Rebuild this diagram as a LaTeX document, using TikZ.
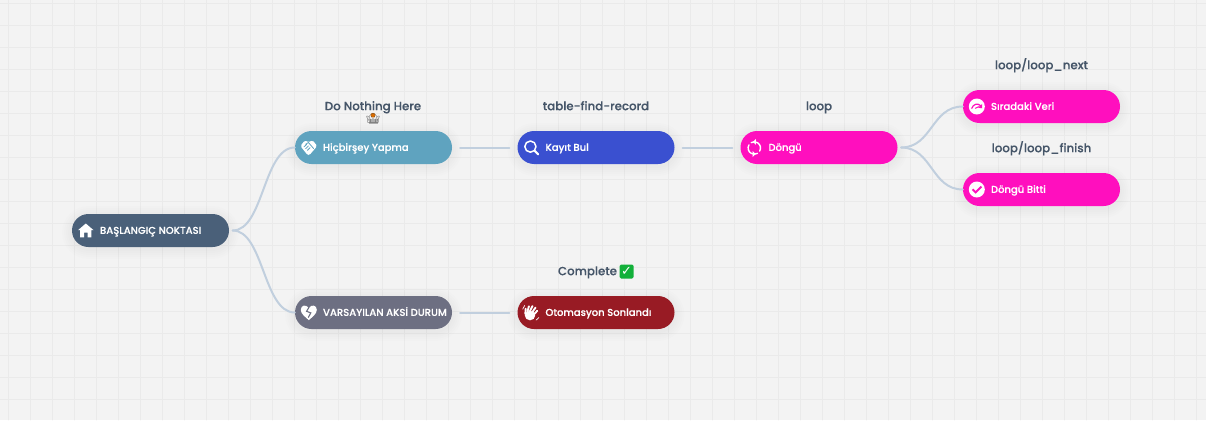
\documentclass[tikz,border=0pt]{standalone}
\usepackage{fontspec}
\usetikzlibrary{calc,arrows.meta}
\newfontfamily\labelfont[FakeBold=0.22]{Poppins Medium}
\newfontfamily\emojifont{Noto Emoji}
\newfontfamily\symfont{DejaVu Sans}
\definecolor{paperC}{HTML}{F3F3F3}
\definecolor{gridC}{HTML}{EAEAEA}
\definecolor{linkC}{HTML}{C1CFDE}
\definecolor{labelC}{HTML}{465669}
\definecolor{rootC}{HTML}{4A6079}
\definecolor{idleC}{HTML}{5FA3BF}
\definecolor{failC}{HTML}{6D6F82}
\definecolor{findC}{HTML}{3A50D0}
\definecolor{loopC}{HTML}{FF0FBE}
\definecolor{doneC}{HTML}{981B24}
\definecolor{tickC}{HTML}{12B03A}
\tikzset{
  pillbox/.style={minimum width=157pt, minimum height=33pt, inner sep=0pt, rounded corners=16.5pt},
  pilltext/.style={anchor=base west, inner sep=0pt, text=white, font=\labelfont\fontsize{10}{12}\selectfont},
  steplabel/.style={anchor=base, inner sep=0pt, text=labelC, font=\labelfont\fontsize{11.8}{14}\selectfont},
  linkline/.style={draw=linkC, line width=2pt, line cap=round}
}

\begin{document}
\begin{tikzpicture}[
  x=1pt,
  y=-1pt,
  line cap=round,
  line join=round
]

\useasboundingbox (0,0) rectangle (1206,420);
\fill[paperC] (0,0) rectangle (1206,420);

% Canvas grid.
\foreach \x in {8.5,30.5,...,1206}{
  \draw[gridC, line width=0.8pt] (\x,0) -- (\x,420);
}
\foreach \y in {3.5,25.5,...,420}{
  \draw[gridC, line width=0.8pt] (0,\y) -- (1206,\y);
}

% Soft shadows under the pills.
\foreach \x/\y in {150.5/230.5, 373.5/147.5, 373.5/312.5, 596/147.5, 596/312.5, 819/147.5, 1041.5/106.5, 1041.5/189.5}{
  \foreach \g in {2,4,...,10}{
    \fill[black, opacity=0.009, rounded corners=16.5pt+\g pt]
      (\x-78.5-\g,\y-16.5-\g+2) rectangle (\x+78.5+\g,\y+16.5+\g+2);
  }
}

% Pills.
\node[pillbox, fill=rootC] (root) at (150.5,230.5) {};
\node[pillbox, fill=idleC] (idle) at (373.5,147.5) {};
\node[pillbox, fill=failC] (fail) at (373.5,312.5) {};
\node[pillbox, fill=findC] (find) at (596,147.5) {};
\node[pillbox, fill=doneC] (done) at (596,312.5) {};
\node[pillbox, fill=loopC] (loop) at (819,147.5) {};
\node[pillbox, fill=loopC] (next) at (1041.5,106.5) {};
\node[pillbox, fill=loopC] (finish) at (1041.5,189.5) {};

% Pill captions.
\foreach \nm/\txt in {root/BAŞLANGIÇ NOKTASI, idle/Hiçbirşey Yapma, fail/VARSAYILAN AKSİ DURUM, find/Kayıt Bul, done/Otomasyon Sonlandı, loop/Döngü, next/Sıradaki Veri, finish/Döngü Bitti}{
  \node[pilltext] (\nm Text) at ($(\nm.west)+(28,3.4)$) {\txt};
}

% House icon.
\begin{scope}[shift={(root.west)}, xshift=14pt]
  \fill[white] (-7.8,-0.3) -- (0,-7) -- (7.8,-0.3) -- (5.6,-0.3) -- (5.6,6.8) -- (1.8,6.8)
    -- (1.8,2.2) -- (-1.8,2.2) -- (-1.8,6.8) -- (-5.6,6.8) -- (-5.6,-0.3) -- cycle;
\end{scope}

% Clasped hands icon.
\begin{scope}[shift={(idle.west)}, xshift=14pt]
  \fill[white, rounded corners=1.5pt] (-8.4,-1.5) -- (-3.8,-7.2) -- (-0.2,-5.2) -- (3.8,-7.2)
    -- (8.4,-1.5) -- (0.4,7.8) -- (-1.5,7.2) -- cycle;
  \draw[idleC, line width=0.8pt] (-3.2,-3.2) -- (-0.4,-5) -- (4.8,1.0);
  \foreach \d in {0,1,2}{
    \draw[idleC, line width=0.8pt] (-4.8+1.7*\d,-0.6+1.7*\d) -- (-2.1+1.7*\d,-3.2+1.7*\d);
  }
\end{scope}

% Broken heart icon.
\begin{scope}[shift={(fail.west)}, xshift=14pt]
  \fill[white] (0,7.6) .. controls (-3,4.8) and (-8,1.6) .. (-8,-2.6)
    .. controls (-8,-7.6) and (-2.6,-8.4) .. (0,-4.4)
    .. controls (2.6,-8.4) and (8,-7.6) .. (8,-2.6)
    .. controls (8,1.6) and (3,4.8) .. (0,7.6) -- cycle;
  \draw[failC, line width=1.1pt, line join=miter] (0.2,-5.2) -- (-2.2,-1.2) -- (2,0.4) -- (-0.4,4.8);
\end{scope}

% Magnifier icon.
\begin{scope}[shift={(find.west)}, xshift=14pt]
  \draw[white, line width=1.5pt] (-0.9,-0.9) circle (5.6);
  \draw[white, line width=2.1pt] (3.4,3.4) -- (6.9,6.9);
\end{scope}

% Clapping hands icon.
\begin{scope}[shift={(done.west)}, xshift=14pt]
  \fill[white] (-1.3,3) ellipse (5.2 and 4.8);
  \foreach \a/\b/\c/\d in {-6/1.5/-5.6/-3.8, -3.9/-0.5/-2.4/-6.2, -1.6/-1/1.2/-6.4, 0.8/0/4.2/-4.9, 2.6/2/6/-1.8}{
    \draw[white, line width=1.9pt] (\a,\b) -- (\c,\d);
  }
  \draw[white, line width=0.7pt] (-8.6,-3.4) -- (-6.6,-7);
  \draw[white, line width=0.7pt] (7.6,5) -- (4.8,7.6);
\end{scope}

% Sync arrows icon.
\begin{scope}[shift={(loop.west)}, xshift=14pt, yshift=-0.5pt]
  \draw[white, line width=1.4pt] (30:6.2) arc[start angle=30, end angle=-120, radius=6.2];
  \draw[white, line width=1.4pt] (210:6.2) arc[start angle=210, end angle=60, radius=6.2];
  \fill[white] (1.6,-9) -- (1.6,-3.2) -- (-1.4,-6) -- cycle;
  \fill[white] (-1.6,9) -- (-1.6,3.2) -- (1.4,6) -- cycle;
\end{scope}

% Gauge icon.
\begin{scope}[shift={(next.west)}, xshift=14pt]
  \fill[white] (0,0) circle (8);
  \draw[loopC, line width=1.2pt] (-5,1.8) .. controls (-3.6,-2.6) and (1,-3.4) .. (3.6,-1);
  \fill[loopC] (5.4,-2.6) -- (5.4,1.8) -- (1.4,1.2) -- cycle;
  \draw[loopC, line width=1.1pt] (-1.4,1.8) -- (1.8,0.2);
\end{scope}

% Check icon.
\begin{scope}[shift={(finish.west)}, xshift=14pt]
  \fill[white] (0,0) circle (8);
  \draw[loopC, line width=1.9pt, line cap=butt, line join=miter] (-4.2,-0.2) -- (-1.2,2.8) -- (4.6,-3);
\end{scope}

% Links.
\draw[linkline, shorten <=3.5pt] (root.east) .. controls +(34.5,0) and +(-31.5,0) .. (idle.west);
\draw[linkline, shorten <=3.5pt] (root.east) .. controls +(34.5,0) and +(-31.5,0) .. (fail.west);
\draw[linkline, shorten <=8pt, shorten >=8pt] (idle) -- (find);
\draw[linkline, shorten <=8pt, shorten >=8pt] (fail) -- (done);
\draw[linkline, shorten <=8pt, shorten >=8pt] (find) -- (loop);
\draw[linkline, shorten <=3.5pt] (loop.east) .. controls +(34.5,0) and +(-31.5,0) .. (next.west);
\draw[linkline, shorten <=3.5pt] (loop.east) .. controls +(34.5,0) and +(-31.5,0) .. (finish.west);

% Step labels.
\node[steplabel] (idleLabel) at (373,110.2) {Do Nothing Here};
\fill[orange!85!black] (373,115.2) circle (2.4);
\fill[black!32] (368.5,119) rectangle (377.5,124);
\node[inner sep=0pt, text=black!70, font=\emojifont\fontsize{11}{11}\selectfont] (idleEmoji) at (373,118.5) {🤷};
\node[steplabel] (findLabel) at (596,110.2) {table-find-record};
\node[steplabel] (loopLabel) at (819,110.2) {loop};
\node[steplabel] (nextLabel) at (1041.5,69.2) {loop/loop\_next};
\node[steplabel] (finishLabel) at (1041.5,152.2) {loop/loop\_finish};
\node[steplabel] (doneLabel) at (587.5,275.2) {Complete};
\node[fill=tickC, rounded corners=1.5pt, minimum size=14pt, inner sep=0pt, text=white, font=\symfont\fontsize{13}{13}\selectfont] (doneTick) at (626.5,271.5) {✓};

\end{tikzpicture}
\end{document}
